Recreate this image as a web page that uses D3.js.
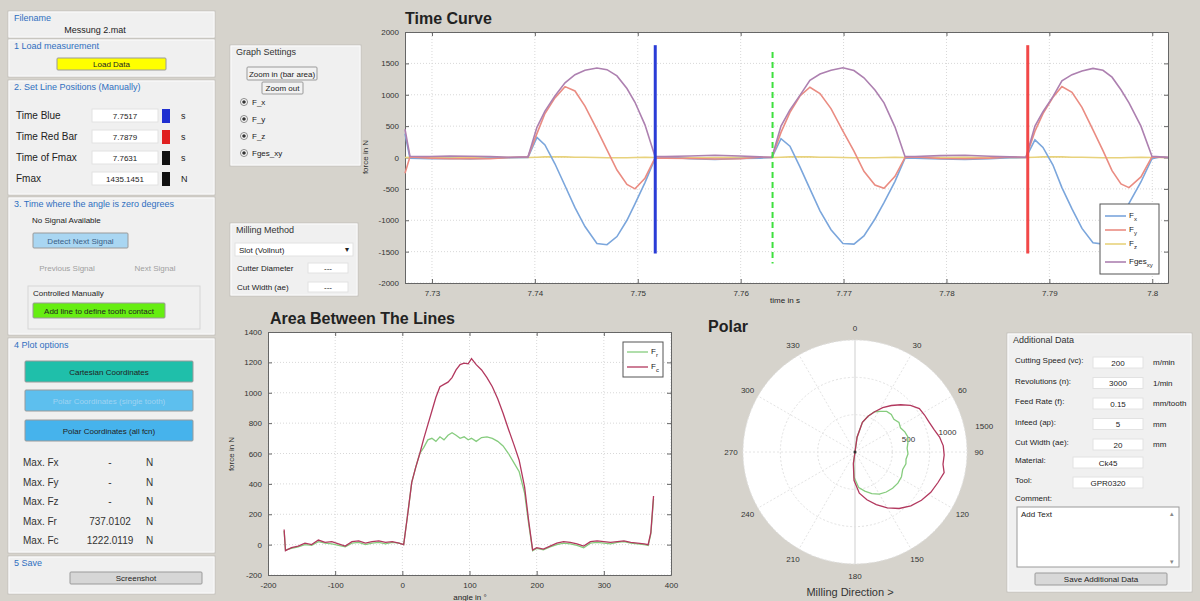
<!DOCTYPE html>
<html>
<head>
<meta charset="utf-8">
<script src="https://cdn.jsdelivr.net/npm/d3@7"></script>
<style>
  body { margin: 0; background: #d6d3cc; }
  svg { display: block; font-family: "Liberation Sans", Arial, sans-serif; }
</style>
</head>
<body>
<svg id="fig" width="1200" height="601"></svg>
<script>
// ---- time curve data (force in N over time in s)
const timeS = [
  7.72738, 7.72786, 7.72981, 7.73175, 7.73369, 7.73564, 7.73758, 7.73933,
  7.74020, 7.74098, 7.74195, 7.74293, 7.74390, 7.74487, 7.74603, 7.74701, 7.74798, 7.74895, 7.74973, 7.75070, 7.75167,
  7.75264, 7.75507, 7.75750, 7.75993, 7.76188, 7.76304,
  7.76392, 7.76479, 7.76576, 7.76673, 7.76771, 7.76878, 7.76994, 7.77101, 7.77198, 7.77305, 7.77393, 7.77500, 7.77597,
  7.77694, 7.77937, 7.78180, 7.78423, 7.78617, 7.78773,
  7.78860, 7.78938, 7.79035, 7.79122, 7.79220, 7.79317, 7.79424, 7.79521, 7.79609, 7.79696, 7.79774, 7.79890, 7.79997,
  7.80075, 7.80153
];
const fx = [
  380, -10, -20, -15, -25, -10, -5, 0,
  320, 200, -100, -450, -800, -1100, -1370, -1390, -1260, -1000, -740, -400, -20,
  10, -20, -30, -15, -10, 0,
  300, 180, -150, -500, -850, -1150, -1370, -1380, -1250, -980, -720, -380, -10,
  -10, -25, -30, -20, -5, 0,
  280, 160, -120, -480, -820, -1130, -1360, -1380, -1240, -990, -730, -390, -20,
  10, -5
];
const fy = [
  -250, 10, -10, -20, -15, -20, 0, 10,
  380, 700, 950, 1130, 1060, 820, 450, 120, -200, -430, -500, -330, -10,
  -10, -15, -25, -20, 5, 0,
  400, 720, 980, 1120, 1020, 780, 420, 100, -220, -440, -490, -300, 0,
  10, -15, -20, -10, 10, 0,
  420, 700, 960, 1130, 1040, 800, 440, 110, -210, -420, -480, -310, 10,
  5, 0
];
const fz = [
  0, 5, 0, -5, 0, 5, 0, 0,
  5, 10, 10, 10, 5, 5, 0, -5, -5, -5, 0, 5, 0,
  0, -5, 0, 5, 0, 0,
  5, 10, 10, 10, 5, 5, 0, -5, -5, -5, 0, 5, 0,
  0, 0, 5, 0, -5, 0,
  5, 10, 10, 10, 5, 5, 0, -5, -5, -5, 0, 5, 0,
  0, 0
];
const fges = [
  450, 20, 15, 25, 20, 15, 5, 10,
  480, 740, 980, 1190, 1320, 1390, 1425, 1400, 1300, 1100, 880, 520, 20,
  15, 25, 35, 25, 10, 5,
  500, 760, 990, 1230, 1330, 1390, 1430, 1385, 1270, 1075, 870, 485, 15,
  15, 30, 35, 20, 10, 5,
  500, 730, 970, 1220, 1320, 1380, 1420, 1390, 1280, 1080, 870, 500, 20,
  10, 5
];
const timeTicks = [7.73, 7.74, 7.75, 7.76, 7.77, 7.78, 7.79, 7.8];
const forceTicks = [-2000, -1500, -1000, -500, 0, 500, 1000, 1500, 2000];

// marker lines: time, top force, bottom force
const markerTimes = [7.7517, 7.7631, 7.7879];
const markerTop = [1790, 1680, 1790];
const markerBottom = [-1530, -1690, -1530];

// ---- area between the lines (force over angle in degrees)
const angleDeg = [
  -176, -174, -165, -155, -145, -135, -125, -115, -105, -95, -85, -75, -65, -55, -45, -35, -25, -15, -5, 2,
  8, 14, 20, 26, 32, 38, 44, 50, 56, 62, 68, 74, 80, 86, 92, 98, 103, 110, 118, 126, 134, 142, 150, 158, 166, 174, 182, 188, 194,
  200, 210, 220, 230, 240, 250, 260, 270, 280, 290, 300, 310, 320, 330, 340, 350, 360, 366, 370, 374
];
const fc = [
  100, -40, -20, -10, 10, 0, 30, 15, 20, 5, -10, 20, 25, 10, 20, 25, 15, 20, 10, 0,
  200, 410, 510, 600, 700, 790, 880, 970, 1040, 1055, 1070, 1100, 1150, 1185, 1195, 1190, 1225, 1185, 1150, 1100, 1040, 960, 865, 760, 660, 555, 380, 160, -35,
  -20, -30, -10, 10, 20, 15, 5, -10, 20, 25, 20, 15, 20, 25, 15, 10, 5, 0, 80, 320
];
const fr = [
  90, -35, -25, -15, 0, -5, 20, 10, 5, -5, -15, 10, 15, 0, 10, 15, 5, 15, 10, 0,
  200, 410, 510, 600, 640, 690, 700, 680, 710, 690, 720, 737, 720, 700, 710, 690, 700, 680, 705, 710, 700, 680, 650, 600, 540, 480, 340, 140, -40,
  -25, -35, -15, 0, 10, 5, -5, -20, 10, 15, 10, 5, 15, 20, 10, 5, 0, -5, 70, 300
];
const angleTicks = [-200, -100, 0, 100, 200, 300, 400];
const areaForceTicks = [-200, 0, 200, 400, 600, 800, 1000, 1200, 1400];

// ---- polar grid
const polarAngles = [0, 30, 60, 90, 120, 150, 180, 210, 240, 270, 300, 330];
const polarRings = [500, 1000, 1500];

const svg = d3.select("#fig");
const font = '"Liberation Sans", Arial, sans-serif';

// ---------- helpers for the GUI widgets
function text(x, y, s, opt = {}) {
  return svg.append("text").attr("x", x).attr("y", y).text(s)
    .attr("font-size", opt.size || 10)
    .attr("fill", opt.color || "#222")
    .attr("text-anchor", opt.anchor || "start")
    .attr("font-weight", opt.weight || "normal");
}
function panel(x, y, w, h, title, titleColor) {
  svg.append("rect").attr("x", x).attr("y", y).attr("width", w).attr("height", h)
    .attr("fill", "#f0f0f0").attr("stroke", "#c4c2bc");
  svg.append("rect").attr("x", x + 1).attr("y", y + 1).attr("width", w - 2).attr("height", h - 2)
    .attr("fill", "none").attr("stroke", "#fbfbfb");
  if (title) text(x + 6, y + 10, title, { size: 9, color: titleColor || "#2f6fc0" });
}
function button(x, y, w, h, label, fill, color) {
  svg.append("rect").attr("x", x).attr("y", y).attr("width", w).attr("height", h)
    .attr("fill", fill).attr("stroke", "#9a9a9a").attr("rx", 1);
  text(x + w / 2, y + h / 2 + 3, label, { size: 8, color: color || "#222", anchor: "middle" });
}
function edit(x, y, w, h, s, anchor) {
  svg.append("rect").attr("x", x).attr("y", y).attr("width", w).attr("height", h)
    .attr("fill", "#ffffff").attr("stroke", "#e2e2e2");
  if (s !== undefined) {
    if (anchor === "start") text(x + 4, y + h / 2 + 3, s, { size: 8 });
    else text(x + w / 2, y + h / 2 + 3, s, { size: 8, anchor: "middle" });
  }
}
// text with a lowered subscript part, like F_x in a MATLAB legend
function sub(x, y, base, subscript, size) {
  const el = svg.append("text").attr("x", x).attr("y", y).attr("font-size", size).attr("fill", "#222");
  el.append("tspan").text(base);
  el.append("tspan").text(subscript).attr("font-size", size - 2).attr("dy", 3);
  return el;
}

// ---------- left column
panel(8, 11, 207, 27, "Filename");
text(95, 33, "Messung 2.mat", { size: 9, anchor: "middle" });

panel(8, 39, 207, 38, "1 Load measurement");
button(57, 58, 109, 12, "Load Data", "#ffff00");

panel(8, 80, 207, 115, "2.  Set Line Positions (Manually)");
const lineRows = ["Time Blue", "Time Red Bar", "Time of Fmax", "Fmax"];
const lineVals = ["7.7517", "7.7879", "7.7631", "1435.1451"];
const lineCols = ["#1f2fd0", "#e02020", "#111111", "#111111"];
const lineUnits = ["s", "s", "s", "N"];
lineRows.forEach((r, i) => {
  const y = 115 + i * 21;
  text(16, y + 4, r, { size: 10 });
  edit(92, y - 6, 66, 13, lineVals[i]);
  svg.append("rect").attr("x", 162).attr("y", y - 6).attr("width", 8).attr("height", 14).attr("fill", lineCols[i]);
  text(181, y + 4, lineUnits[i], { size: 9 });
});

panel(8, 197, 207, 138, "3. Time where the angle is zero degrees");
text(32, 223, "No Signal Available", { size: 8 });
button(33, 233, 95, 15, "Detect Next Signal", "#a9d6f2", "#3b5f86");
text(67, 271, "Previous Signal", { size: 8, color: "#a0a0a0", anchor: "middle" });
text(155, 271, "Next Signal", { size: 8, color: "#a0a0a0", anchor: "middle" });
svg.append("rect").attr("x", 28).attr("y", 286).attr("width", 172).attr("height", 43)
  .attr("fill", "#f0f0f0").attr("stroke", "#d6d6d6");
text(33, 296, "Controlled Manually", { size: 8 });
button(33, 303, 132, 15, "Add line to define tooth contact", "#66ee11");

panel(8, 338, 207, 215, "4 Plot options");
button(25, 361, 168, 21, "Cartesian Coordinates", "#1fbfaa");
button(25, 390, 168, 21, "Polar Coordinates (single tooth)", "#5dbfee", "#9fd3f2");
button(25, 420, 168, 21, "Polar Coordinates (all fcn)", "#46b3ec");
const maxNames = ["Fx", "Fy", "Fz", "Fr", "Fc"];
const maxVals = ["-", "-", "-", "737.0102", "1222.0119"];
maxNames.forEach((n, i) => {
  const y = 466 + i * 19.5;
  text(23, y, "Max. " + n, { size: 10, color: "#333" });
  text(110, y, maxVals[i], { size: 10, anchor: "middle", color: "#333" });
  text(146, y, "N", { size: 10, color: "#333" });
});

panel(8, 556, 207, 38, "5 Save");
button(70, 572, 132, 12, "Screenshot", "#d6d6d6");

// ---------- graph settings / milling method
panel(230, 45, 131, 121, "Graph Settings", "#333");
button(247, 67, 70, 13, "Zoom in (bar area)", "#f2f2f2");
button(262, 82, 41, 12, "Zoom out", "#f2f2f2");
const radioLabels = ["F_x", "F_y", "F_z", "Fges_xy"];
radioLabels.forEach((r, i) => {
  const y = 102 + i * 17;
  svg.append("circle").attr("cx", 244).attr("cy", y).attr("r", 3.5).attr("fill", "#fff").attr("stroke", "#888");
  svg.append("circle").attr("cx", 244).attr("cy", y).attr("r", 1.8).attr("fill", "#333");
  text(252, y + 3, r, { size: 8 });
});

panel(230, 223, 128, 73, "Milling Method", "#333");
edit(235, 243, 118, 13, "Slot (Vollnut)", "start");
text(347, 252, "▾", { size: 8, anchor: "middle" });
text(237, 271, "Cutter Diameter", { size: 8 });
edit(308, 263, 40, 10, "---");
text(237, 290, "Cut Width (ae)", { size: 8 });
edit(308, 282, 40, 10, "---");

// ---------- generic axes drawing (MATLAB style: box, grid, ticks inside)
function drawAxes(x, y, xTicks, yTicks, xFmt) {
  const [x0, x1] = x.range(), [y0, y1] = y.range();
  const g = svg.append("g");
  g.append("rect").attr("x", x0).attr("y", y1).attr("width", x1 - x0).attr("height", y0 - y1).attr("fill", "#fff");
  g.append("g").selectAll("line").data(xTicks).join("line")
    .attr("x1", d => x(d)).attr("x2", d => x(d)).attr("y1", y0).attr("y2", y1)
    .attr("stroke", "#d8d8d8").attr("stroke-dasharray", "1,2");
  g.append("g").selectAll("line").data(yTicks).join("line")
    .attr("x1", x0).attr("x2", x1).attr("y1", d => y(d)).attr("y2", d => y(d))
    .attr("stroke", "#d8d8d8").attr("stroke-dasharray", "1,2");
  const style = s => {
    s.select(".domain").attr("stroke", "#666");
    s.selectAll(".tick line").attr("stroke", "#666");
    s.selectAll("text").attr("font-size", 8).attr("fill", "#333").attr("font-family", font);
  };
  g.append("g").attr("transform", `translate(0,${y0})`)
    .call(d3.axisBottom(x).tickValues(xTicks).tickSize(-4).tickSizeOuter(0).tickPadding(7).tickFormat(xFmt)).call(style);
  g.append("g").attr("transform", `translate(0,${y1})`)
    .call(d3.axisTop(x).tickValues(xTicks).tickSize(-4).tickSizeOuter(0).tickFormat("")).call(style);
  g.append("g").attr("transform", `translate(${x0},0)`)
    .call(d3.axisLeft(y).tickValues(yTicks).tickSize(-4).tickSizeOuter(0).tickPadding(6).tickFormat(d => String(d))).call(style);
  g.append("g").attr("transform", `translate(${x1},0)`)
    .call(d3.axisRight(y).tickValues(yTicks).tickSize(-4).tickSizeOuter(0).tickFormat("")).call(style);
  return g;
}

// ---------- Time Curve
const xT = d3.scaleLinear().domain([7.72738, 7.80153]).range([405, 1168]);
const yT = d3.scaleLinear().domain([-2000, 2000]).range([283, 32]);
text(405, 24, "Time Curve", { size: 16, weight: "bold", color: "#222" });
drawAxes(xT, yT, timeTicks, forceTicks, d => String(+d.toFixed(2)));
text(785, 303, "time in s", { size: 8, anchor: "middle" });
svg.append("text").attr("transform", "translate(368,157) rotate(-90)").attr("text-anchor", "middle")
  .attr("font-size", 8).attr("fill", "#333").text("force in N");

const timeSeries = [
  { base: "F", sub: "x", vals: fx, color: "#7ba6dc" },
  { base: "F", sub: "y", vals: fy, color: "#ea8c82" },
  { base: "F", sub: "z", vals: fz, color: "#e8d27c" },
  { base: "Fges", sub: "xy", vals: fges, color: "#ad80b0" }
];
const timeLine = vals => d3.line().x((d, i) => xT(timeS[i])).y(d => yT(d))(vals);
svg.append("g").selectAll("path").data([timeSeries[2], timeSeries[0], timeSeries[1], timeSeries[3]]).join("path")
  .attr("d", d => timeLine(d.vals)).attr("fill", "none").attr("stroke", d => d.color).attr("stroke-width", 1.6);

const markerColors = ["#2a3cd6", "#3ee03e", "#f24848"];
const markerDash = [null, "6,4", null];
const markerWidth = [3, 2, 3];
markerTimes.forEach((t, i) => {
  svg.append("line").attr("x1", xT(t)).attr("x2", xT(t)).attr("y1", yT(markerTop[i])).attr("y2", yT(markerBottom[i]))
    .attr("stroke", markerColors[i]).attr("stroke-width", markerWidth[i]).attr("stroke-dasharray", markerDash[i]);
});

// legend
svg.append("rect").attr("x", 1100).attr("y", 204).attr("width", 59).attr("height", 70)
  .attr("fill", "#fff").attr("stroke", "#555");
const legY = [216, 230, 244, 262];
timeSeries.forEach((s, i) => {
  svg.append("line").attr("x1", 1105).attr("x2", 1126).attr("y1", legY[i]).attr("y2", legY[i])
    .attr("stroke", s.color).attr("stroke-width", 1.6);
  sub(1129, legY[i] + 2, s.base, s.sub, 8);
});

// ---------- Area Between The Lines
const xA = d3.scaleLinear().domain([-200, 400]).range([268, 671]);
const yA = d3.scaleLinear().domain([-200, 1400]).range([575, 332]);
text(270, 324, "Area Between The Lines", { size: 16, weight: "bold", color: "#222" });
drawAxes(xA, yA, angleTicks, areaForceTicks, d => String(d));
text(470, 600, "angle in °", { size: 8, anchor: "middle" });
svg.append("text").attr("transform", "translate(234,454) rotate(-90)").attr("text-anchor", "middle")
  .attr("font-size", 8).attr("fill", "#333").text("force in N");
const areaSeries = [
  { name: "r", vals: fr, color: "#86cc7e" },
  { name: "c", vals: fc, color: "#b2385e" }
];
const areaLine = vals => d3.line().x((d, i) => xA(angleDeg[i])).y(d => yA(d))(vals);
svg.append("g").selectAll("path").data(areaSeries).join("path")
  .attr("d", d => areaLine(d.vals)).attr("fill", "none").attr("stroke", d => d.color).attr("stroke-width", 1.3);
svg.append("rect").attr("x", 623).attr("y", 342).attr("width", 40).attr("height", 35)
  .attr("fill", "#fff").attr("stroke", "#555");
areaSeries.forEach((s, i) => {
  const y = 352 + i * 15;
  svg.append("line").attr("x1", 627).attr("x2", 648).attr("y1", y).attr("y2", y).attr("stroke", s.color).attr("stroke-width", 1.3);
  sub(651, y + 2, "F", s.name, 8);
});

// ---------- Polar
const cx = 855, cy = 452;
const rP = d3.scaleLinear().domain([0, 1500]).range([0, 112]);
text(708, 332, "Polar", { size: 16, weight: "bold", color: "#222" });
svg.append("circle").attr("cx", cx).attr("cy", cy).attr("r", rP(1500)).attr("fill", "#fff");
const rad = a => a * Math.PI / 180;
svg.append("g").selectAll("line").data(polarAngles).join("line")
  .attr("x1", cx).attr("y1", cy)
  .attr("x2", d => cx + rP(1500) * Math.sin(rad(d)))
  .attr("y2", d => cy - rP(1500) * Math.cos(rad(d)))
  .attr("stroke", d => d % 180 === 0 ? "#cfcfcf" : "#e4e4e4")
  .attr("stroke-dasharray", d => d % 180 === 0 ? null : "2,2");
svg.append("g").selectAll("circle").data(polarRings).join("circle")
  .attr("cx", cx).attr("cy", cy).attr("r", d => rP(d)).attr("fill", "none")
  .attr("stroke", "#e2e2e2").attr("stroke-dasharray", "2,2");
svg.append("g").selectAll("text").data(polarAngles).join("text")
  .attr("x", d => cx + 124 * Math.sin(rad(d)))
  .attr("y", d => cy - 124 * Math.cos(rad(d)) + 3)
  .attr("text-anchor", "middle").attr("font-size", 8).attr("fill", "#333").text(d => d);
svg.append("g").selectAll("text").data(polarRings).join("text")
  .attr("x", d => cx + rP(d) * Math.sin(rad(80)) + 10)
  .attr("y", d => cy - rP(d) * Math.cos(rad(80)) - 4)
  .attr("font-size", 8).attr("fill", "#333").text(d => d);
const polarLine = vals => d3.line()
  .x(d => cx + rP(Math.max(d.v, 0)) * Math.sin(rad(d.a)))
  .y(d => cy - rP(Math.max(d.v, 0)) * Math.cos(rad(d.a)))(
    angleDeg.map((a, i) => ({ a: a, v: vals[i] })).filter(d => d.a >= 0 && d.a <= 200));
svg.append("g").selectAll("path").data(areaSeries).join("path")
  .attr("d", d => polarLine(d.vals)).attr("fill", "none").attr("stroke", d => d.color).attr("stroke-width", 1.3);
svg.append("circle").attr("cx", cx).attr("cy", cy).attr("r", 1.5).attr("fill", "#333");
text(850, 596, "Milling Direction >", { size: 11, anchor: "middle", color: "#333" });

// ---------- Additional Data
panel(1007, 333, 185, 259, "Additional Data", "#333");
const addLabels = ["Cutting Speed (vc):", "Revolutions (n):", "Feed Rate (f):", "Infeed (ap):", "Cut Width (ae):"];
const addVals = ["200", "3000", "0.15", "5", "20"];
const addUnits = ["m/min", "1/min", "mm/tooth", "mm", "mm"];
addLabels.forEach((l, i) => {
  const y = 362 + i * 20.5;
  text(1015, y + 1, l, { size: 8 });
  edit(1093, y - 5, 50, 11, addVals[i]);
  text(1153, y + 3, addUnits[i], { size: 8 });
});
text(1015, 463, "Material:", { size: 8 });
edit(1073, 457, 70, 11, "Ck45");
text(1015, 483, "Tool:", { size: 8 });
edit(1073, 477, 70, 11, "GPR0320");
text(1015, 501, "Comment:", { size: 8 });
svg.append("rect").attr("x", 1017).attr("y", 507).attr("width", 162).attr("height", 60)
  .attr("fill", "#fff").attr("stroke", "#9a9a9a");
text(1021, 517, "Add Text", { size: 8 });
text(1172, 516, "▴", { size: 7, anchor: "middle", color: "#888" });
text(1172, 564, "▾", { size: 7, anchor: "middle", color: "#888" });
button(1035, 573, 132, 12, "Save Additional Data", "#d8d8d8");
</script>
</body>
</html>
